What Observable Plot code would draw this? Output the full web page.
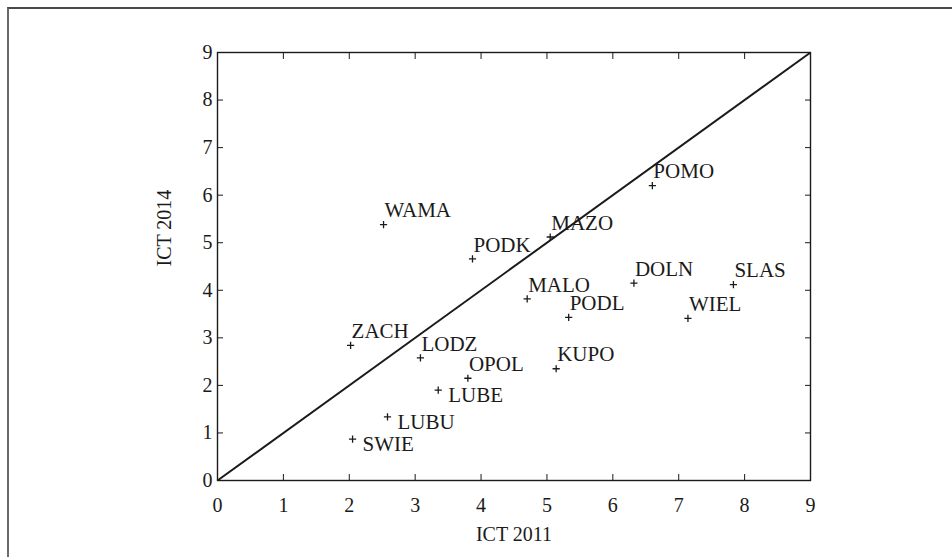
<!DOCTYPE html>
<html>
<head>
<meta charset="utf-8">
<script src="https://cdn.jsdelivr.net/npm/d3@7"></script>
<script src="https://cdn.jsdelivr.net/npm/@observablehq/plot@0.6"></script>
<style>
  html, body { margin: 0; padding: 0; background: white; }
  #wrap { position: relative; width: 952px; height: 557px; overflow: hidden; }
  #border { position: absolute; left: 7px; top: 7px; right: -4px; bottom: -4px;
            border-top: 2px solid #4a4a4a; border-left: 2px solid #6a6a6a; pointer-events: none; }
</style>
</head>
<body>
<div id="wrap"><div id="border"></div></div>
<script>
// ---- data ----
const regions = ["WAMA","PODK","MAZO","POMO","MALO","PODL","DOLN","SLAS","WIEL","ZACH","LODZ","OPOL","KUPO","LUBE","LUBU","SWIE"];
const ict2011 = [2.52, 3.87, 5.05, 6.60, 4.70, 5.33, 6.32, 7.83, 7.14, 2.02, 3.08, 3.80, 5.14, 3.35, 2.58, 2.05];
const ict2014 = [5.38, 4.66, 5.12, 6.20, 3.82, 3.43, 4.15, 4.12, 3.41, 2.84, 2.58, 2.15, 2.35, 1.90, 1.34, 0.87];
const xTicks = [0, 1, 2, 3, 4, 5, 6, 7, 8, 9];
const yTicks = [0, 1, 2, 3, 4, 5, 6, 7, 8, 9];
const xLabel = "ICT 2011";
const yLabel = "ICT 2014";
const diagonal = [{x1: 0, y1: 0, x2: 9, y2: 9}];

const data = regions.map((name, i) => ({name, x: ict2011[i], y: ict2014[i]}));
const rightLabeled = new Set(["LUBE", "LUBU", "SWIE"]);

const plusSymbol = {
  draw(context, size) {
    const r = Math.sqrt(size / Math.PI);
    context.moveTo(-r, 0); context.lineTo(r, 0);
    context.moveTo(0, -r); context.lineTo(0, r);
  }
};

const ink = "#1a1a1a";
const blank = () => "";

const chart = Plot.plot({
  width: 952,
  height: 557,
  marginLeft: 217,
  marginRight: 142,
  marginTop: 52,
  marginBottom: 77,
  x: {domain: [0, 9]},
  y: {domain: [0, 9]},
  style: {fontFamily: "'Liberation Serif', 'Times New Roman', serif", fontSize: "20px", color: ink, background: "transparent", overflow: "visible"},
  marks: [
    Plot.frame({stroke: ink, strokeWidth: 1.4}),
    Plot.axisX(xTicks, {anchor: "bottom", tickSize: 0, tickPadding: 17, fontSize: 20, label: null, fill: ink}),
    Plot.axisX(xTicks, {anchor: "bottom", tickSize: -6, tickFormat: blank, label: null, stroke: ink}),
    Plot.axisX(xTicks, {anchor: "top", tickSize: -6, tickFormat: blank, label: null, stroke: ink}),
    Plot.axisY(yTicks, {anchor: "left", tickSize: 0, tickPadding: 5, fontSize: 20, label: null, fill: ink}),
    Plot.axisY(yTicks, {anchor: "left", tickSize: -6, tickFormat: blank, label: null, stroke: ink}),
    Plot.axisY(yTicks, {anchor: "right", tickSize: -6, tickFormat: blank, label: null, stroke: ink}),
    Plot.text([xLabel], {frameAnchor: "bottom", text: d => d, dy: 60, fontSize: 20, fill: ink}),
    Plot.text([yLabel], {frameAnchor: "left", text: d => d, dx: -53, rotate: -90, fontSize: 20, fill: ink}),
    Plot.link(diagonal, {x1: "x1", y1: "y1", x2: "x2", y2: "y2", stroke: ink, strokeWidth: 2}),
    Plot.dot(data, {x: "x", y: "y", symbol: plusSymbol, r: 3.6, stroke: ink, strokeWidth: 1.3, fill: "none"}),
    Plot.text(data.filter(d => !rightLabeled.has(d.name)), {x: "x", y: "y", text: "name", textAnchor: "start", dx: 1, dy: -14, fontSize: 21, fill: ink}),
    Plot.text(data.filter(d => rightLabeled.has(d.name)), {x: "x", y: "y", text: "name", textAnchor: "start", dx: 10, dy: 5, fontSize: 21, fill: ink})
  ]
});
chart.style.position = "absolute";
chart.style.left = "0px";
chart.style.top = "0px";
document.getElementById("wrap").appendChild(chart);
</script>
</body>
</html>
